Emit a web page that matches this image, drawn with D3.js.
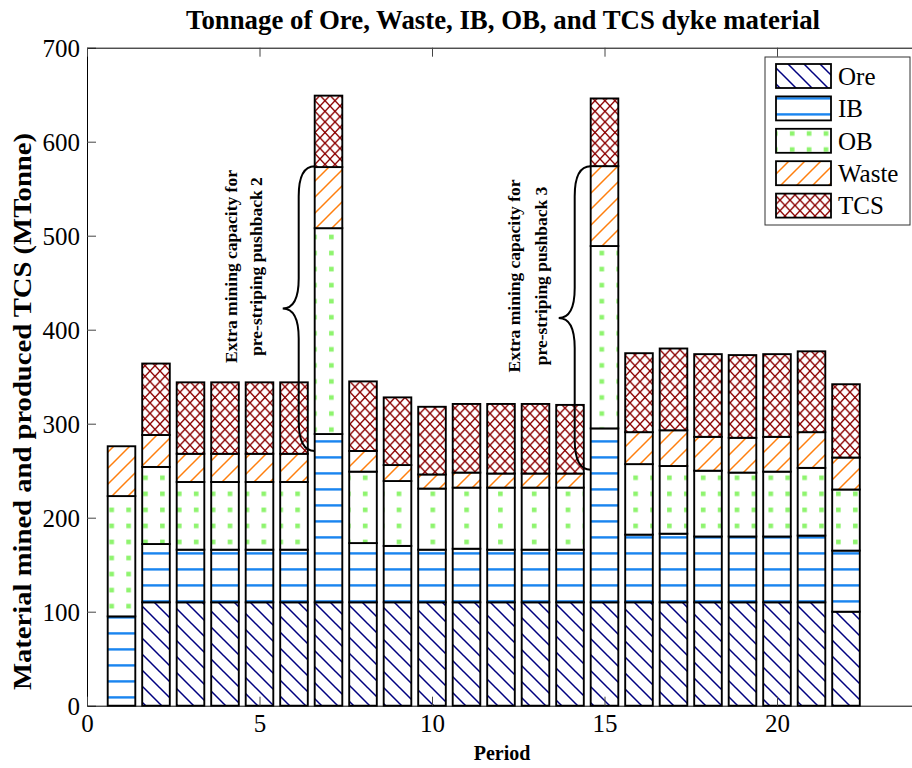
<!DOCTYPE html>
<html>
<head>
<meta charset="utf-8">
<script src="https://cdn.jsdelivr.net/npm/d3@7"></script>
<style>
  body { margin: 0; background: #fff; }
  svg { display: block; }
  text { font-family: 'Liberation Serif', 'Times New Roman', serif; }
</style>
</head>
<body>
<div id="chart"></div>
<script>
// values (MTonne per period)
const periods = [1, 2, 3, 4, 5, 6, 7, 8, 9, 10, 11, 12, 13, 14, 15, 16, 17, 18, 19, 20, 21, 22]
const ore   = [0, 110, 110, 110, 110, 110, 110, 110, 110, 110, 110, 110, 110, 110, 110, 110, 110, 110, 110, 110, 110, 100]
const ib    = [95, 62, 56, 56, 56, 56, 179, 63, 60, 56, 57, 56, 56, 56, 185, 72, 73, 70, 70, 70, 71, 65]
const ob    = [128, 82, 72, 72, 72, 72, 219, 76, 69, 65, 65, 66, 66, 66, 194, 75, 72, 70, 68, 69, 72, 65]
const waste = [53, 34, 30, 30, 30, 30, 65, 22, 17, 15, 16, 15, 15, 15, 85, 34, 38, 36, 37, 37, 38, 34]
const tcs   = [0, 76, 76, 76, 76, 76, 76, 74, 72, 72, 73, 74, 74, 73, 72, 84, 87, 88, 88, 88, 86, 78]

const seriesKeys = ['Ore', 'IB', 'OB', 'Waste', 'TCS']
const yTicks = [0, 100, 200, 300, 400, 500, 600, 700]
const xTicks = [0, 5, 10, 15, 20]

// brace annotations: bar it points at, top value, bottom value
const notes = [
  { period: 7, top: 574, bottom: 271, lines: ['Extra mining capacity for', 'pre-striping pushback 2'], dx: [-78, -52.5] },
  { period: 15, top: 574, bottom: 251, lines: ['Extra mining capacity for', 'pre-striping pushback 3'], dx: [-70.5, -43.5] }
]

const width = 912, height = 768
const plotLeft = 87, plotRight = 915, plotTop = 47.7, plotBottom = 705.7
const barWidth = 0.8

const svg = d3.select('#chart').append('svg')
  .attr('width', width)
  .attr('height', height)

const x = d3.scaleLinear().domain([0, 24]).range([plotLeft, plotRight])
const y = d3.scaleLinear().domain([0, 700]).range([plotBottom, plotTop])

// hatch patterns, aligned to the page like MATLAB hatchfill
const defs = svg.append('defs')
const ph = defs.append('pattern').attr('id', 'p-Ore').attr('patternUnits', 'userSpaceOnUse')
  .attr('width', 16).attr('height', 16)
ph.append('rect').attr('width', 16).attr('height', 16).attr('fill', '#fff')
ph.append('path').attr('d', 'M-4,-4L20,20M-4,12L4,20M12,-4L20,4')
  .attr('stroke', '#000080').attr('stroke-width', 1.5)

const pi = defs.append('pattern').attr('id', 'p-IB').attr('patternUnits', 'userSpaceOnUse')
  .attr('width', 16).attr('height', 16)
pi.append('rect').attr('width', 16).attr('height', 16).attr('fill', '#fff')
pi.append('rect').attr('y', 8.2).attr('width', 16).attr('height', 2.4).attr('fill', '#1a85f0')

const po = defs.append('pattern').attr('id', 'p-OB').attr('patternUnits', 'userSpaceOnUse')
  .attr('width', 16.9).attr('height', 16.05)
po.append('rect').attr('width', 16.9).attr('height', 16.05).attr('fill', '#fff')
po.append('rect').attr('x', 8).attr('y', 10).attr('width', 4.6).attr('height', 4.6).attr('fill', '#8ef46e')

const pw = defs.append('pattern').attr('id', 'p-Waste').attr('patternUnits', 'userSpaceOnUse')
  .attr('width', 16).attr('height', 16)
pw.append('rect').attr('width', 16).attr('height', 16).attr('fill', '#fff')
pw.append('path').attr('d', 'M-4,20L20,-4M-4,4L4,-4M12,20L20,12')
  .attr('stroke', '#ff7f0e').attr('stroke-width', 1.5)

const pt = defs.append('pattern').attr('id', 'p-TCS').attr('patternUnits', 'userSpaceOnUse')
  .attr('width', 10).attr('height', 10.6)
pt.append('rect').attr('width', 10).attr('height', 10.6).attr('fill', '#fff')
pt.append('path').attr('d', 'M0,0L10,10.6M0,10.6L10,0')
  .attr('stroke', '#8b0000').attr('stroke-width', 1.4)

// stacked bars
const rows = periods.map((p, i) => ({
  period: p, Ore: ore[i], IB: ib[i], OB: ob[i], Waste: waste[i], TCS: tcs[i]
}))
const stacked = d3.stack().keys(seriesKeys)(rows)

const barsG = svg.append('g')
stacked.forEach(layer => {
  barsG.selectAll(null)
    .data(layer.filter(d => d[1] - d[0] > 0))
    .enter()
    .append('rect')
    .attr('x', d => x(d.data.period - barWidth / 2))
    .attr('width', x(barWidth) - x(0))
    .attr('y', d => y(d[1]))
    .attr('height', d => y(d[0]) - y(d[1]))
    .attr('fill', `url(#p-${layer.key})`)
    .attr('stroke', '#000')
    .attr('stroke-width', 1.9)
})

// axes
const yAxis = svg.append('g')
  .attr('transform', `translate(${plotLeft},0)`)
  .call(d3.axisLeft(y).tickValues(yTicks).tickSizeInner(-9).tickSizeOuter(0).tickPadding(7))
const xAxis = svg.append('g')
  .attr('transform', `translate(0,${plotBottom})`)
  .call(d3.axisBottom(x).tickValues(xTicks).tickSizeInner(-9).tickSizeOuter(0).tickPadding(9))
const topAxis = svg.append('g')
  .attr('transform', `translate(0,${plotTop})`)
  .call(d3.axisTop(x).tickValues(xTicks).tickFormat('').tickSizeInner(-9).tickSizeOuter(0))

svg.selectAll('.domain').attr('stroke', '#000')
svg.selectAll('.tick line').attr('stroke', '#444')
svg.selectAll('.tick text')
  .style('font-family', "'Liberation Serif', 'Times New Roman', serif")
  .style('font-size', '25px')
  .attr('fill', '#000')
yAxis.selectAll('.tick text').attr('dy', '0.36em')

// titles
svg.append('text')
  .attr('x', 503)
  .attr('y', 29)
  .attr('text-anchor', 'middle')
  .style('font-size', '26.8px')
  .style('font-weight', 'bold')
  .text('Tonnage of Ore, Waste, IB, OB, and TCS dyke material')

svg.append('text')
  .attr('x', 502)
  .attr('y', 760)
  .attr('text-anchor', 'middle')
  .style('font-size', '20px')
  .style('font-weight', 'bold')
  .text('Period')

svg.append('text')
  .attr('transform', 'translate(31,411.5) rotate(-90)')
  .attr('text-anchor', 'middle')
  .attr('textLength', 557)
  .attr('lengthAdjust', 'spacingAndGlyphs')
  .style('font-size', '25px')
  .style('font-weight', 'bold')
  .text('Material mined and produced TCS (MTonne)')

// braces and notes
const brace = (ex, y1, y2) => {
  const sx = ex - 16, tx = ex - 32, ym = (y1 + y2) / 2, q = 30
  return `M${ex},${y1} Q${sx},${y1} ${sx},${y1 + q} L${sx},${ym - q} Q${sx},${ym} ${tx},${ym}` +
    ` Q${sx},${ym} ${sx},${ym + q} L${sx},${y2 - q} Q${sx},${y2} ${ex},${y2}`
}
notes.forEach(n => {
  const ex = x(n.period - barWidth / 2)
  const y1 = y(n.top), y2 = y(n.bottom)
  svg.append('path')
    .attr('d', brace(ex, y1, y2))
    .attr('fill', 'none')
    .attr('stroke', '#000')
    .attr('stroke-width', 2)
  const cy = (y1 + y2) / 2 - 42
  n.lines.forEach((t, j) => {
    svg.append('text')
      .attr('transform', `translate(${ex + n.dx[j]},${cy}) rotate(-90)`)
      .attr('text-anchor', 'middle')
      .style('font-size', '17.5px')
      .style('font-weight', 'bold')
      .text(t)
  })
})

// legend
const lg = svg.append('g').attr('transform', 'translate(765,57)')
lg.append('rect')
  .attr('width', 145).attr('height', 168)
  .attr('fill', '#fff').attr('stroke', '#333').attr('stroke-width', 1)
seriesKeys.forEach((k, i) => {
  lg.append('rect')
    .attr('x', 11).attr('y', 7 + i * 32.4)
    .attr('width', 55).attr('height', 24)
    .attr('fill', `url(#p-${k})`)
    .attr('stroke', '#000').attr('stroke-width', 1.8)
  lg.append('text')
    .attr('x', 73).attr('y', 19 + i * 32.4)
    .attr('dy', '0.35em')
    .style('font-size', '25px')
    .text(k)
})
</script>
</body>
</html>
